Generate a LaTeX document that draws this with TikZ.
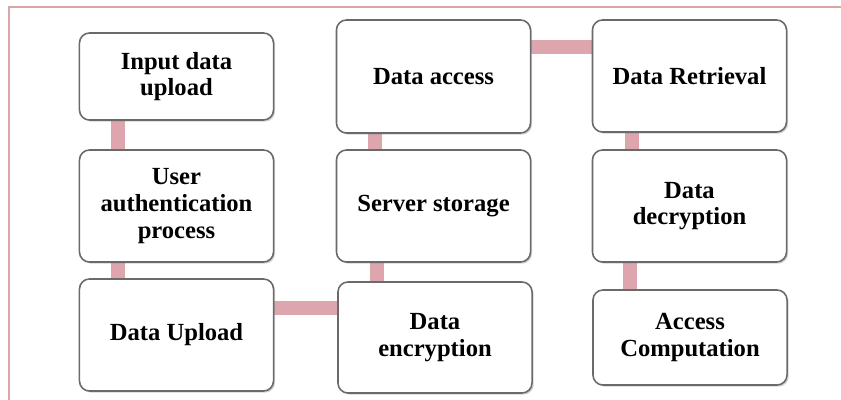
\documentclass[tikz,border=0pt]{standalone}
\usepackage{fontspec}
\setmainfont{Liberation Serif}
\usetikzlibrary{shadows,backgrounds}
\definecolor{linkpink}{HTML}{DDA6AE}
\definecolor{framepink}{HTML}{D9A6A6}
\definecolor{boxgray}{HTML}{6A6A6A}
\begin{document}
\begin{tikzpicture}[x=0.025cm,y=-0.025cm,
    stage/.style={draw=boxgray,line width=1.1pt,fill=white,rounded corners=0.25cm,
      minimum width=4.85cm,align=center,inner sep=2pt,
      font=\bfseries\fontsize{17.5}{19}\selectfont,
      drop shadow={shadow xshift=0.04cm,shadow yshift=-0.04cm,opacity=0.35}},
    link/.style={linkpink,line width=10.5pt}]
    \useasboundingbox (0,0) rectangle (841,400);
    \draw[framepink,line width=1pt] (9,400) -- (9,7) -- (841,7);
    % first column
    \node[stage,minimum height=2.175cm] (input) at (176.5,76.5) {Input data\\upload};
    \node[stage,minimum height=2.8cm] (auth) at (176.5,206) {User\\authentication\\process};
    \node[stage,minimum height=2.8cm] (upload) at (176.5,335) {Data Upload};
    % second column
    \node[stage,minimum height=2.825cm] (access) at (433.5,76.5) {Data access};
    \node[stage,minimum height=2.8cm] (storage) at (433.5,206) {Server storage};
    \node[stage,minimum height=2.775cm] (encrypt) at (435,337.5) {Data\\encryption};
    % third column
    \node[stage,minimum height=2.8cm] (retrieve) at (689.5,76) {Data Retrieval};
    \node[stage,minimum height=2.8cm] (decrypt) at (689.5,206) {Data\\decryption};
    \node[stage,minimum height=2.375cm] (compute) at (690,337.5) {Access\\Computation};
    \begin{scope}[on background layer]
    \draw[link] (118,0 |- input.south) -- (118,0 |- auth.north);
    \draw[link] (118,0 |- auth.south) -- (118,0 |- upload.north);
    \draw[link] (upload.east |- 0,308) -- (encrypt.west |- 0,308);
    \draw[link] (377,0 |- encrypt.north) -- (377,0 |- storage.south);
    \draw[link] (375,0 |- storage.north) -- (375,0 |- access.south);
    \draw[link] (access.east |- 0,47) -- (retrieve.west |- 0,47);
    \draw[link] (632,0 |- retrieve.south) -- (632,0 |- decrypt.north);
    \draw[link] (630,0 |- decrypt.south) -- (630,0 |- compute.north);
    \end{scope}
\end{tikzpicture}
\end{document}
